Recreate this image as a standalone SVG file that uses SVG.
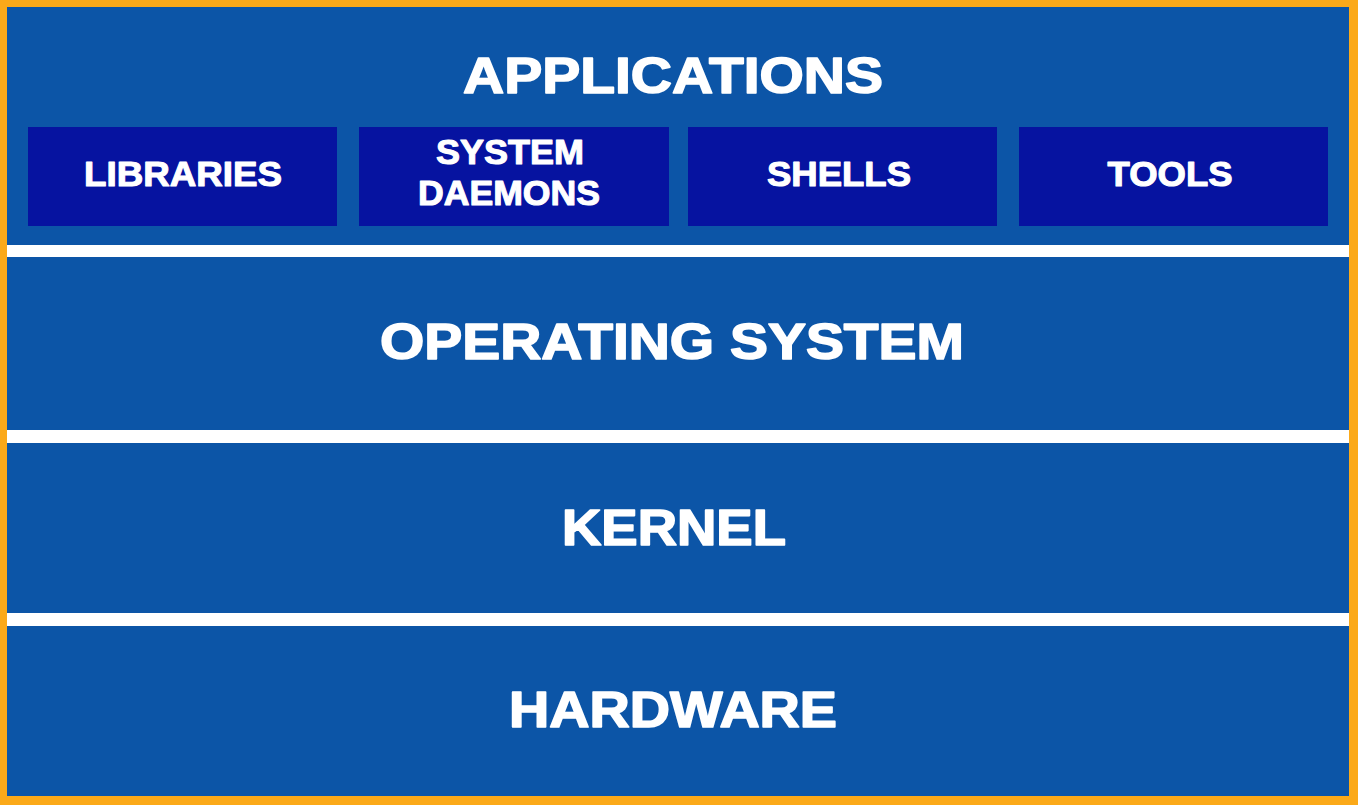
<svg xmlns="http://www.w3.org/2000/svg" width="1358" height="805" viewBox="0 0 1358 805">
  <style>
    .frame { fill: #fba919; }
    .layer { fill: #0c55a7; }
    .sep { fill: #ffffff; }
    .box { fill: #0613a0; }
    .big { font-family: "Liberation Sans", Arial, sans-serif; font-weight: bold; font-size: 50px; fill: #ffffff; stroke: #ffffff; stroke-width: 1.6; stroke-linejoin: round; text-anchor: middle; }
    .small { font-family: "Liberation Sans", Arial, sans-serif; font-weight: bold; font-size: 35px; fill: #ffffff; stroke: #ffffff; stroke-width: 1.1; stroke-linejoin: round; text-anchor: middle; }
  </style>
  <rect class="frame" x="0" y="0" width="1358" height="805"/>
  <rect class="layer" x="7" y="7" width="1342" height="789"/>
  <g id="separators">
    <rect class="sep" x="7" y="245" width="1342" height="12"/>
    <rect class="sep" x="7" y="430" width="1342" height="13"/>
    <rect class="sep" x="7" y="613" width="1342" height="13"/>
  </g>
  <g id="applications">
    <text class="big" x="673" y="93" textLength="420" lengthAdjust="spacingAndGlyphs">APPLICATIONS</text>
  </g>
  <g id="libraries">
    <rect class="box" x="28" y="127" width="309" height="99"/>
    <text class="small" x="183" y="186" textLength="198" lengthAdjust="spacingAndGlyphs">LIBRARIES</text>
  </g>
  <g id="system-daemons">
    <rect class="box" x="359" y="127" width="310" height="99"/>
    <text class="small" x="510" y="164" textLength="148" lengthAdjust="spacingAndGlyphs">SYSTEM</text>
    <text class="small" x="509" y="205" textLength="182" lengthAdjust="spacingAndGlyphs">DAEMONS</text>
  </g>
  <g id="shells">
    <rect class="box" x="688" y="127" width="309" height="99"/>
    <text class="small" x="839" y="186" textLength="144" lengthAdjust="spacingAndGlyphs">SHELLS</text>
  </g>
  <g id="tools">
    <rect class="box" x="1019" y="127" width="309" height="99"/>
    <text class="small" x="1170" y="186" textLength="125" lengthAdjust="spacingAndGlyphs">TOOLS</text>
  </g>
  <g id="operating-system">
    <text class="big" x="672" y="359" textLength="584" lengthAdjust="spacingAndGlyphs">OPERATING SYSTEM</text>
  </g>
  <g id="kernel">
    <text class="big" x="674" y="545" textLength="224" lengthAdjust="spacingAndGlyphs">KERNEL</text>
  </g>
  <g id="hardware">
    <text class="big" x="673" y="727" textLength="328" lengthAdjust="spacingAndGlyphs">HARDWARE</text>
  </g>
  <g id="connectors"></g>
</svg>
